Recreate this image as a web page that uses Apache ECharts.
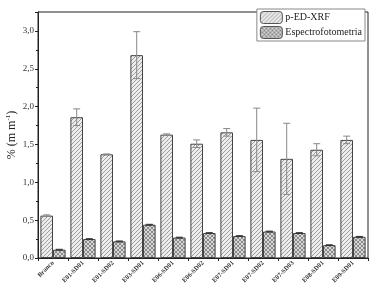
<!DOCTYPE html>
<html><head><meta charset="utf-8">
<script src="https://cdn.jsdelivr.net/npm/echarts@6/dist/echarts.min.js"></script>
<style>html,body{margin:0;padding:0;background:#fff}#c{width:384px;height:290px}</style>
</head><body><div id="c"></div>
<script>
const categories = ['Branco','E01-SD01','E01-SD02','E03-SD01','E06-SD01','E06-SD02','E07-SD01','E07-SD02','E07-SD03','E08-SD01','E09-SD01'];
const xrfValues = [0.56,1.86,1.37,2.68,1.63,1.51,1.66,1.56,1.31,1.43,1.56];
const xrfErrors = [0.01,0.11,0.005,0.31,0.01,0.05,0.05,0.42,0.47,0.08,0.05];
const espValues = [0.11,0.25,0.22,0.44,0.27,0.33,0.29,0.35,0.33,0.17,0.28];
const espErrors = [0.005,0.005,0.005,0.005,0.005,0.005,0.005,0.005,0.005,0.005,0.005];
const yTicks = ['0,0','0,5','1,0','1,5','2,0','2,5','3,0'];

function hatch(cross){
  const c = document.createElement('canvas');
  const s = 4;
  c.width = s; c.height = s;
  const g = c.getContext('2d');
  g.fillStyle = cross ? '#d8d8d8' : '#ececec';
  g.fillRect(0,0,s,s);
  g.strokeStyle = cross ? '#777' : '#8a8a8a';
  g.lineWidth = 0.8;
  g.beginPath();
  g.moveTo(0,s); g.lineTo(s,0);
  g.moveTo(-1,1); g.lineTo(1,-1);
  g.moveTo(s-1,s+1); g.lineTo(s+1,s-1);
  if (cross){
    g.moveTo(0,0); g.lineTo(s,s);
    g.moveTo(-1,s-1); g.lineTo(1,s+1);
    g.moveTo(s-1,-1); g.lineTo(s+1,1);
  }
  g.stroke();
  return c;
}
const pat1 = {image: hatch(false), repeat: 'repeat'};
const pat2 = {image: hatch(true), repeat: 'repeat'};
const BW = 0.42;

function errSeries(vals, errs, side, color){
  return {
    type: 'custom', z: 5, silent: true,
    data: vals.map((v,i)=>[i, v, errs[i]]),
    renderItem: function(params, api){
      const i = api.value(0), v = api.value(1), e = api.value(2);
      const band = api.size([1,0])[0];
      const off = side * band * BW / 2;
      const top = api.coord([i, v+e]);
      const bot = api.coord([i, v-e]);
      const x = top[0] + off;
      const cw = 3.5;
      const st = {stroke: color, lineWidth: 1};
      return {type:'group', children:[
        {type:'line', shape:{x1:x,y1:top[1],x2:x,y2:bot[1]}, style:st},
        {type:'line', shape:{x1:x-cw,y1:top[1],x2:x+cw,y2:top[1]}, style:st},
        {type:'line', shape:{x1:x-cw,y1:bot[1],x2:x+cw,y2:bot[1]}, style:st}
      ]};
    }
  };
}

const chart = echarts.init(document.getElementById('c'));
chart.setOption({
  animation: false,
  textStyle: {fontFamily: 'Liberation Serif'},
  grid: {left: 38, right: 16, top: 12, bottom: 32, show: true, borderColor: '#222', borderWidth: 1, containLabel: false, outerBoundsMode: 'none'},
  legend: {
    right: 19, top: 9, orient: 'vertical', itemWidth: 22, itemHeight: 12, itemGap: 2,
    padding: [2,3,2,3], borderColor: '#888', borderWidth: 1, backgroundColor: '#fff',
    textStyle: {fontFamily: 'Liberation Serif', fontSize: 10, color: '#222', padding: [0,0,0,-2]},
    data: [
      {name:'p-ED-XRF', itemStyle:{color: pat1, borderColor:'#555', borderWidth:1}},
      {name:'Espectrofotometria', itemStyle:{color: pat2, borderColor:'#555', borderWidth:1}}
    ]
  },
  xAxis: {
    type: 'category', data: categories,
    axisLine: {lineStyle: {color: '#222'}},
    axisTick: {show: true, alignWithLabel: false, length: 3, lineStyle:{color:'#222'}},
    axisLabel: {rotate: 45, fontSize: 6.5, fontWeight: 'bold', color: '#333', margin: 4, fontFamily: 'Liberation Serif', interval: 0}
  },
  yAxis: {
    type: 'value', min: 0, max: 3.25, interval: 0.5,
    name: '{a|% (m m}{s|-1}{a|)}', nameLocation: 'middle', nameGap: 20, nameMoveOverlap: false,
    nameTextStyle: {rich: {a: {fontSize: 12, fontFamily:'Liberation Serif', color:'#222'}, s: {fontSize: 7, fontFamily:'Liberation Serif', color:'#222', verticalAlign:'top', padding:[0,0,6,0]}}},
    axisLine: {show: true, lineStyle: {color: '#222'}},
    axisTick: {show: true, length: 3, lineStyle:{color:'#222'}},
    minorTick: {show: true, splitNumber: 2, length: 2, lineStyle:{color:'#222'}},
    splitLine: {show: false},
    axisLabel: {fontSize: 9, color: '#333', margin: 4, fontFamily:'Liberation Serif',
      formatter: function(v){ const k = Math.round(v/0.5); return (Math.abs(v - k*0.5) < 1e-6 && yTicks[k]) ? yTicks[k] : ''; }}
  },
  series: [
    {name:'p-ED-XRF', type:'bar', data: xrfValues, barWidth: (BW*100)+'%', barGap: '0%',
      itemStyle:{color: pat1, borderColor:'#444', borderWidth: 1}},
    {name:'Espectrofotometria', type:'bar', data: espValues, barWidth: (BW*100)+'%', barGap: '0%',
      itemStyle:{color: pat2, borderColor:'#444', borderWidth: 1}},
    errSeries(xrfValues, xrfErrors, -1, '#888'),
    errSeries(espValues, espErrors, 1, '#333')
  ]
});
</script></body></html>
